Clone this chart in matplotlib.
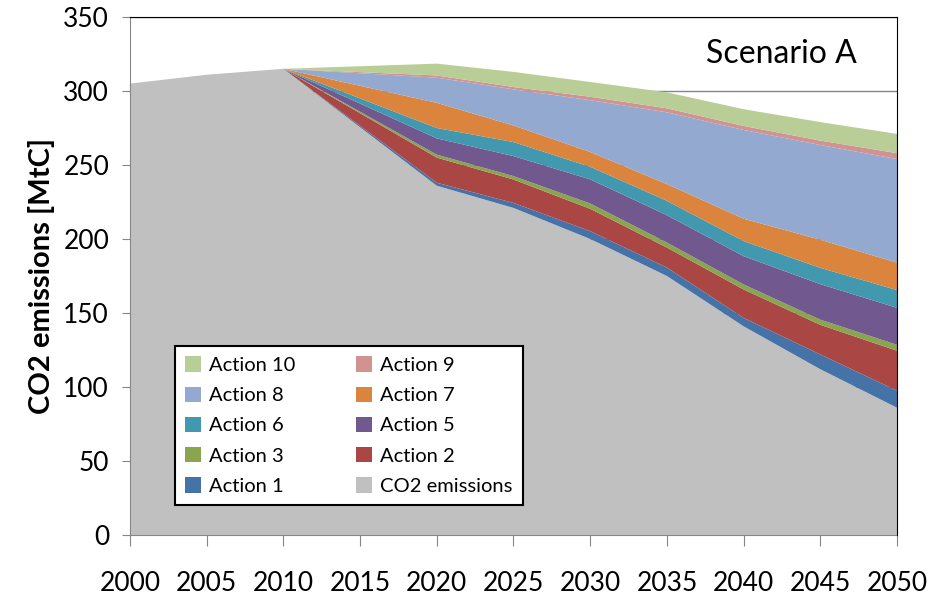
import matplotlib
matplotlib.use('Agg')
import matplotlib.pyplot as plt
from matplotlib.patches import Patch

plt.rcParams['font.family'] = ['Lato', 'DejaVu Sans']

years = [2000, 2005, 2010, 2020, 2025, 2030, 2035, 2040, 2045, 2050]
co2_emissions = [305, 311, 315, 236, 221, 200, 175, 141, 112, 86]
action1 = [0, 0, 0, 2.0, 3.4, 5.3, 5.7, 5.7, 10.0, 11.5]
action2 = [0, 0, 0, 17.0, 15.8, 15.1, 13.5, 19.2, 20.0, 27.0]
action3 = [0, 0, 0, 2.0, 2.3, 3.6, 3.4, 3.4, 3.5, 4.0]
action5 = [0, 0, 0, 11.0, 13.5, 16.3, 18.5, 19.1, 24.0, 25.0]
action6 = [0, 0, 0, 7.0, 9.5, 8.5, 9.7, 10.2, 11.0, 12.0]
action7 = [0, 0, 0, 17.0, 11.2, 10.0, 11.3, 15.1, 19.0, 18.5]
action8 = [0, 0, 0, 17.0, 24.4, 35.0, 48.5, 60.0, 64.0, 70.0]
action9 = [0, 0, 0, 1.5, 1.6, 2.3, 2.7, 2.7, 3.0, 4.0]
action10 = [0, 0, 0, 8.0, 10.2, 10.0, 10.8, 11.3, 12.5, 13.0]

labels = ['CO2 emissions', 'Action 1', 'Action 2', 'Action 3', 'Action 5',
          'Action 6', 'Action 7', 'Action 8', 'Action 9', 'Action 10']
colors = ['#C0C0C0', '#4572A7', '#AA4643', '#89A54E', '#71588F',
          '#4198AF', '#DB843D', '#93A9CF', '#D19392', '#B9CD96']

fig = plt.figure(figsize=(9.31, 5.97), dpi=100)
ax = fig.add_axes([0.1396, 0.1039, 0.8239, 0.8676])

ax.stackplot(years, co2_emissions, action1, action2, action3, action5,
             action6, action7, action8, action9, action10,
             colors=colors, linewidth=0, zorder=2)

ax.set_xlim(2000, 2050)
ax.set_ylim(0, 350)
ax.set_xticks(range(2000, 2051, 5))
ax.set_yticks(range(0, 351, 50))
ax.yaxis.grid(True, color='#868686', linewidth=1, zorder=0)
ax.set_axisbelow(True)

for s in ['left', 'bottom']:
    ax.spines[s].set_color('#868686')
for s in ['top', 'right']:
    ax.spines[s].set_color('black')
    ax.spines[s].set_zorder(3)
ax.tick_params(axis='y', length=6, color='#868686', pad=9, labelsize=19)
ax.tick_params(axis='x', length=8, color='#868686', pad=18, labelsize=19)

ax.set_ylabel('CO2 emissions [MtC]', fontsize=21, fontweight='bold', labelpad=6)
ax.text(0.849, 0.928, 'Scenario A', transform=ax.transAxes, fontsize=23,
        ha='center', va='center', zorder=5)

# legend filled row by row like the original
order = ['Action 10', 'Action 8', 'Action 6', 'Action 3', 'Action 1',
         'Action 9', 'Action 7', 'Action 5', 'Action 2', 'CO2 emissions']
handles = [Patch(facecolor=colors[labels.index(l)], label=l) for l in order]
leg = ax.legend(handles=handles, ncol=2, loc='lower left',
                bbox_to_anchor=(0.0587, 0.058), borderaxespad=0, fontsize=14.5,
                handlelength=0.8, handleheight=0.8, handletextpad=0.4,
                columnspacing=3.0, labelspacing=0.62, borderpad=0.5,
                fancybox=False, framealpha=1, edgecolor='black')
leg.get_frame().set_linewidth(1.5)
leg.set_zorder(6)

fig.savefig('out.png', dpi=100)
